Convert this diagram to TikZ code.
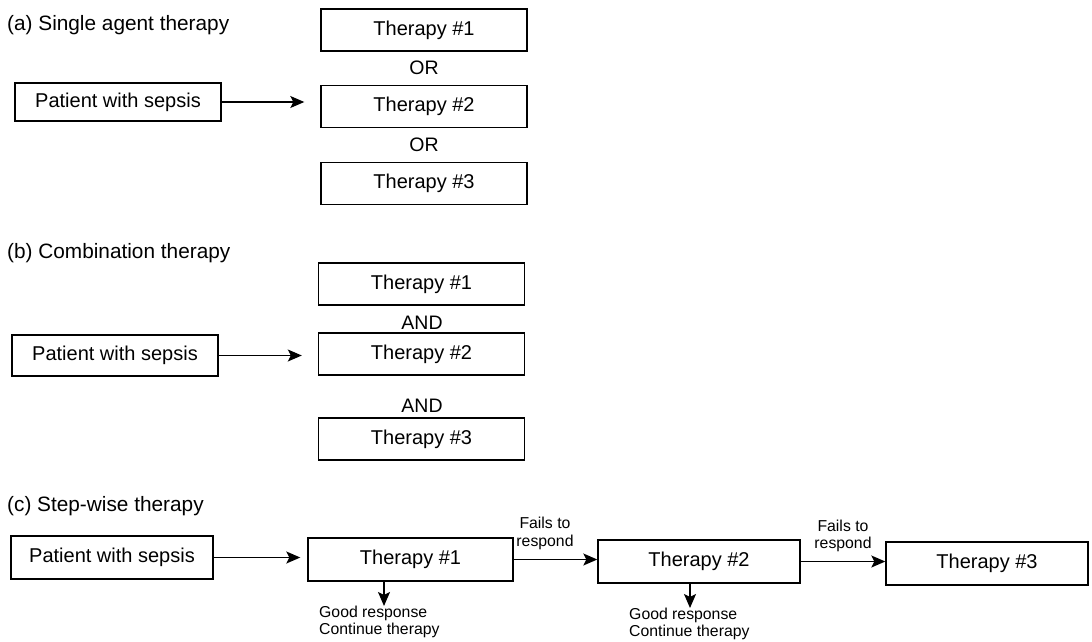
\documentclass[tikz,border=0pt]{standalone}
\usepackage{fontspec}
\setmainfont{Liberation Sans}
\usetikzlibrary{arrows.meta}
\begin{document}
\begin{tikzpicture}[x=1pt,y=-1pt,
  box/.style={draw, line width=1.4pt, rectangle, inner sep=0pt, minimum width=206pt, minimum height=42pt, font=\fontsize{20}{22}\selectfont},
  lbl/.style={inner sep=0pt, anchor=west, font=\fontsize{20.8}{22}\selectfont},
  conj/.style={inner sep=0pt, font=\fontsize{19.5}{22}\selectfont},
  small/.style={inner sep=0pt, align=center, font=\fontsize{15.8}{17.5}\selectfont},
  smallleft/.style={inner sep=0pt, align=left, anchor=west, font=\fontsize{15.8}{17}\selectfont},
  arr/.style={-{Stealth[length=14pt,width=12pt,inset=3pt]}, line width=1.3pt}]
\useasboundingbox (0,0) rectangle (1092,642);
% (a)
\node[lbl] (la) at (7,25) {(a) Single agent therapy};
\node[box] (a1) at (424,30) {Therapy \#1};
\node[conj] (aor1) at (424,68) {OR};
\node[box] (a2) at (424,106.5) {Therapy \#2};
\node[conj] (aor2) at (424,145) {OR};
\node[box] (a3) at (424,183.5) {Therapy \#3};
\node[box, minimum height=38pt] (pa) at (118,102) {Patient with sepsis};
\draw[arr, shorten >=16pt] (pa.east) -- (pa.east -| a2.west);
% (b)
\node[lbl] (lb) at (7,253) {(b) Combination therapy};
\node[box] (b1) at (421.5,284) {Therapy \#1};
\node[conj] (band1) at (422,323) {AND};
\node[box] (b2) at (421.5,354) {Therapy \#2};
\node[conj] (band2) at (422,406) {AND};
\node[box] (b3) at (421.5,439) {Therapy \#3};
\node[box, minimum height=41pt] (pb) at (115,355.5) {Patient with sepsis};
\draw[arr, shorten >=16pt] (pb.east) -- (pb.east -| b2.west);
% (c)
\node[lbl] (lc) at (7,506) {(c) Step-wise therapy};
\node[box, minimum width=202pt, minimum height=43pt] (pc) at (112,557.5) {Patient with sepsis};
\node[box, minimum width=205pt, minimum height=43pt] (c1) at (410.5,559.5) {Therapy \#1};
\node[box, minimum width=202pt, minimum height=43pt] (c2) at (699,561.5) {Therapy \#2};
\node[box, minimum width=202pt, minimum height=43pt] (c3) at (987,563.5) {Therapy \#3};
\draw[arr, shorten >=7pt] (pc.east) -- (pc.east -| c1.west);
\draw[arr] (c1.east) -- (c1.east -| c2.west);
\draw[arr] (c2.east) -- (c2.east -| c3.west);
\node[small] (f1) at (545,533.5) {Fails to\\respond};
\node[small] (f2) at (843,536) {Fails to\\respond};
\node[smallleft] (g1) at (319,621.5) {Good response\\Continue therapy};
\node[smallleft] (g2) at (629,623.5) {Good response\\Continue therapy};
\coordinate (d1) at (384,606);
\coordinate (d2) at (690,608);
\draw[arr] (d1 |- c1.south) -- (d1);
\draw[arr] (d2 |- c2.south) -- (d2);
\end{tikzpicture}
\end{document}
